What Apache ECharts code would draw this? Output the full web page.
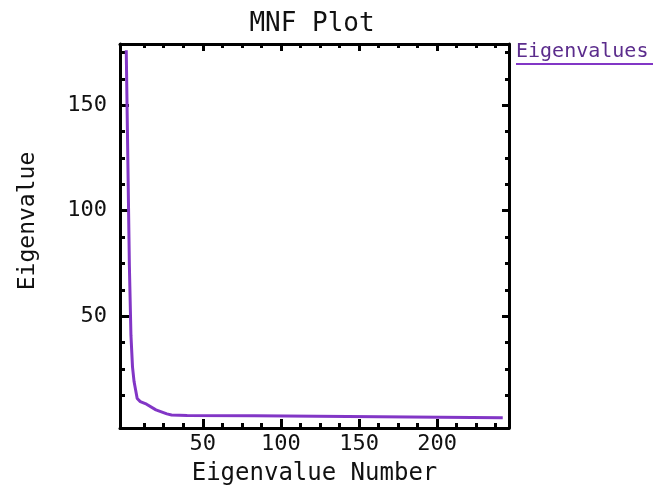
<!DOCTYPE html>
<html>
<head>
<meta charset="utf-8">
<script src="https://cdn.jsdelivr.net/npm/echarts@6/dist/echarts.min.js"></script>
<style>
  html, body { margin: 0; padding: 0; background: #fff; }
  #chart { width: 655px; height: 491px; }
</style>
</head>
<body>
<div id="chart"></div>
<script>
// values
const eigenNumber = [1, 2, 3, 4, 5, 6, 7, 8, 10, 14, 20, 27, 30, 40, 83, 84, 242];
const eigenValue = [176, 176, 74, 41, 26, 19, 15, 11, 9.5, 8.3, 5.6, 3.7, 3.2, 2.9, 2.8, 1.9, 1.9];

const xMajorTicks = [50, 100, 150, 200];
const xMinorTicks = [12.5, 25, 37.5, 62.5, 75, 87.5, 112.5, 125, 137.5, 162.5, 175, 187.5, 212.5, 225, 237.5];
const yMajorTicks = [50, 100, 150];
const yMinorTicks = [12.5, 25, 37.5, 62.5, 75, 87.5, 112.5, 125, 137.5, 162.5, 175];

const seriesName = 'Eigenvalues';
const lineColor = '#8236c6';
const font = 'DejaVu Sans Mono';

const chart = echarts.init(document.getElementById('chart'), null, { renderer: 'canvas' });

function boxAxis(pos, range, ticks, len, withLine, label) {
  return {
    type: 'value',
    position: pos,
    min: range[0],
    max: range[1],
    axisLine: { show: withLine, onZero: false, lineStyle: { color: '#000', width: 3 } },
    axisTick: { show: true, inside: true, length: len, customValues: ticks, lineStyle: { color: '#000', width: 3 } },
    axisLabel: label || { show: false },
    splitLine: { show: false }
  };
}

const xRange = [-3, 246];
const yRange = [-3, 179];

const xLabel = { show: true, customValues: xMajorTicks, margin: 5, color: '#111', fontFamily: font, fontSize: 22 };
const yLabel = { show: true, customValues: yMajorTicks, margin: 13, color: '#111', fontFamily: font, fontSize: 22 };

const xMain = boxAxis('bottom', xRange, xMajorTicks, 9, true, xLabel);
xMain.name = 'Eigenvalue Number';
xMain.nameLocation = 'middle';
xMain.nameGap = 34;
xMain.nameTextStyle = { color: '#111', fontFamily: font, fontSize: 24 };

const yMain = boxAxis('left', yRange, yMajorTicks, 9, true, yLabel);
yMain.name = 'Eigenvalue';
yMain.nameLocation = 'middle';
yMain.nameGap = 80;
yMain.nameTextStyle = { color: '#111', fontFamily: font, fontSize: 23, padding: [0, 0, 0, 30] };

const option = {
  backgroundColor: '#fff',
  animation: false,
  title: {
    text: 'MNF Plot',
    left: 307,
    textAlign: 'center',
    top: 6,
    textStyle: { color: '#111', fontFamily: font, fontSize: 26, fontWeight: 'normal' }
  },
  grid: { left: 120, right: 146, top: 44, bottom: 54, containLabel: false },
  xAxis: [
    xMain,
    boxAxis('bottom', xRange, xMinorTicks, 5, false),
    boxAxis('top', xRange, xMajorTicks, 7, true),
    boxAxis('top', xRange, xMinorTicks, 4, false)
  ],
  yAxis: [
    yMain,
    boxAxis('left', yRange, yMinorTicks, 5, false),
    boxAxis('right', yRange, yMajorTicks, 7, true),
    boxAxis('right', yRange, yMinorTicks, 4, false)
  ],
  graphic: [
    {
      type: 'text',
      left: 516,
      top: 42,
      style: { text: seriesName, fill: '#5b2c8c', font: '20px "' + font + '"' }
    },
    {
      type: 'line',
      shape: { x1: 516, y1: 64, x2: 653, y2: 64 },
      style: { stroke: lineColor, lineWidth: 2 }
    }
  ],
  series: [{
    name: seriesName,
    type: 'line',
    xAxisIndex: 0,
    yAxisIndex: 0,
    showSymbol: false,
    lineStyle: { color: lineColor, width: 3 },
    data: eigenNumber.map((n, i) => [n, eigenValue[i]])
  }]
};

chart.setOption(option);
</script>
</body>
</html>
